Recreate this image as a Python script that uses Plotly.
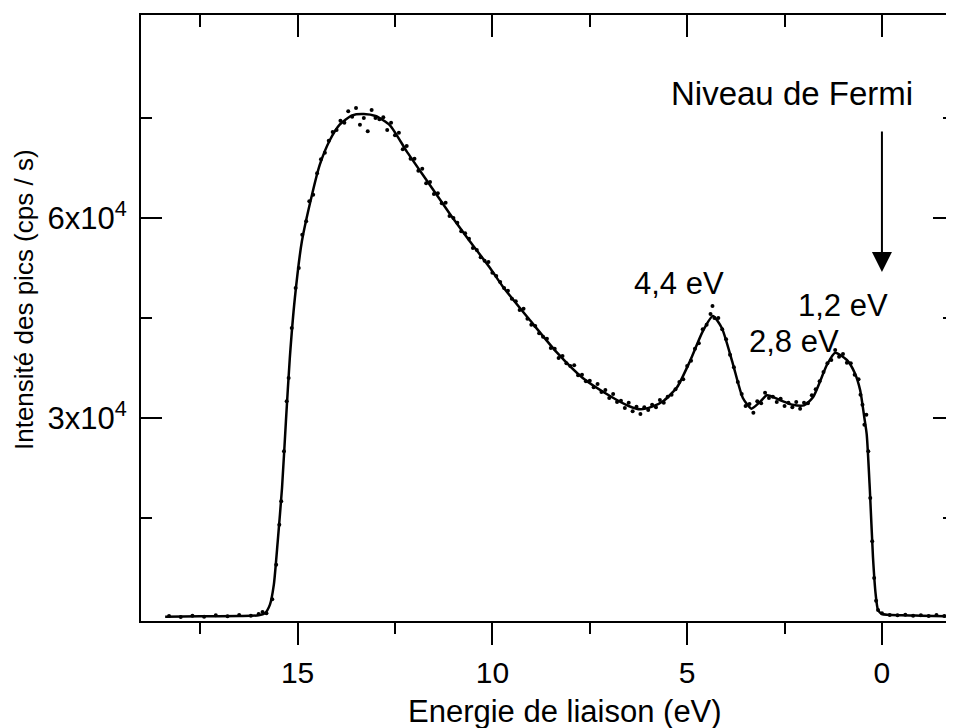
import plotly.graph_objects as go

# ── Data (binding energy in eV, intensity in counts/s) ────────────────────────

# smooth fitted curve
fit_energy = [18.4, 17.5, 16.5, 16.0, 15.84, 15.71, 15.61, 15.51, 15.40, 15.30,
              15.20, 15.07, 14.89, 14.63, 14.43, 14.17, 13.92, 13.6, 13.3, 13.0,
              12.63, 12.2, 11.68, 11.09, 10.58, 10.06, 9.73, 9.04, 8.34, 7.68,
              6.98, 6.5, 6.2, 5.9, 5.6, 5.26, 4.93, 4.60, 4.34, 4.11,
              3.83, 3.57, 3.35, 3.15, 2.95, 2.62, 2.3, 2.0, 1.77, 1.41,
              1.2, 0.9, 0.70, 0.56, 0.45, 0.39, 0.31, 0.23, 0.16, 0.10,
              0.0, -0.5, -1.0, -1.85]
fit_counts = [200, 250, 300, 400, 700, 2000, 5000, 11500, 19500, 29500,
              39000, 48000, 56500, 63500, 68000, 71700, 74000, 75400, 75600, 75300,
              73900, 70000, 65600, 60600, 56500, 52500, 49700, 44700, 39800, 36000,
              33300, 31800, 31300, 31700, 32600, 34600, 38500, 43000, 45300, 43500,
              38200, 33000, 31400, 32300, 33400, 32700, 32000, 31900, 33100, 38000,
              39800, 38700, 36800, 34200, 30000, 27500, 19200, 9150, 3500, 1200,
              600, 400, 350, 250]

# measured points
pts_energy = [18.3, 18.0, 17.7, 17.4, 17.1, 16.8, 16.5, 16.2, 16.0, 15.9, 15.8,
              15.65, 15.55, 15.47, 15.42, 15.35, 15.28, 15.23, 15.15, 15.05, 14.97,
              14.88, 14.78, 14.70, 14.6, 14.5, 14.4, 14.3, 14.2, 14.1, 14.0,
              13.9, 13.8, 13.7, 13.6, 13.5, 13.4, 13.3, 13.2, 13.1, 13.0,
              12.9, 12.8, 12.7, 12.6, 12.5, 12.4, 12.3, 12.2, 12.1, 12.0,
              11.9, 11.8, 11.7, 11.6, 11.5, 11.4, 11.3, 11.2, 11.1, 11.0,
              10.9, 10.8, 10.7, 10.6, 10.5, 10.4, 10.3, 10.2, 10.1, 10.0,
              9.9, 9.8, 9.7, 9.6, 9.5, 9.4, 9.3, 9.2, 9.1, 9.0,
              8.9, 8.8, 8.7, 8.6, 8.5, 8.4, 8.3, 8.2, 8.1, 8.0,
              7.9, 7.8, 7.7, 7.6, 7.5, 7.4, 7.3, 7.2, 7.1, 7.0,
              6.9, 6.8, 6.7, 6.6, 6.5, 6.4, 6.3, 6.2, 6.1, 6.0,
              5.9, 5.8, 5.7, 5.6, 5.5, 5.4, 5.3, 5.2, 5.1, 5.0,
              4.9, 4.8, 4.7, 4.6, 4.5, 4.4, 4.35, 4.3, 4.2, 4.1,
              4.0, 3.9, 3.8, 3.7, 3.6, 3.5, 3.4, 3.3, 3.2, 3.1,
              3.0, 2.9, 2.8, 2.7, 2.6, 2.5, 2.4, 2.3, 2.2, 2.1,
              2.0, 1.9, 1.8, 1.7, 1.6, 1.5, 1.4, 1.3, 1.2, 1.1,
              1.0, 0.9, 0.8, 0.7, 0.6, 0.55, 0.5, 0.45, 0.4, 0.35,
              0.3, 0.25, 0.2, 0.15, 0.1, 0.0, -0.2, -0.4, -0.6, -0.8,
              -1.0, -1.2, -1.4, -1.6, -1.8]
pts_counts = [300, 150, 350, 200, 400, 250, 450, 350, 600, 900, 700,
              2800, 8000, 14000, 17500, 25000, 32500, 36000, 43500, 49500, 52500,
              57500, 59500, 62500, 63500, 66700, 68800, 69800, 71600, 72900, 73200,
              74600, 74300, 76000, 75200, 76500, 74000, 75000, 73000, 76200, 75000,
              74800, 75100, 73200, 74300, 72400, 72800, 70300, 70800, 68900, 68900,
              67100, 67400, 65200, 65400, 63600, 63700, 62200, 62300, 60300, 60000,
              59300, 58000, 57700, 56900, 55500, 55200, 54100, 53600, 53400, 51800,
              51300, 50400, 49500, 49100, 47900, 47500, 46200, 46400, 44900, 44000,
              43800, 42700, 42200, 41900, 40500, 40400, 39000, 39300, 38200, 37800,
              37900, 36400, 36500, 35500, 35600, 34600, 35100, 33900, 34200, 33000,
              33600, 32400, 32600, 31500, 32300, 31000, 31700, 30600, 31600, 31200,
              32000, 31600, 32700, 32300, 33200, 33500, 34300, 35400, 35800, 37800,
              38600, 40400, 41200, 43300, 44000, 45600, 46800, 45000, 45000, 43300,
              41800, 39500, 37600, 35400, 33600, 31800, 32100, 30800, 32500, 32200,
              33800, 33000, 33200, 32400, 32900, 31800, 32300, 31600, 32400, 31400,
              32300, 32200, 33400, 34300, 35500, 36900, 38200, 38700, 40200, 39200,
              39600, 38300, 38200, 36500, 35800, 33500, 32000, 29000, 30500, 25000,
              18000, 11500, 6000, 2600, 1200, 700, 450, 400, 500, 350,
              400, 300, 450, 300, 250]

y_major = [30000, 60000]
y_major_text = ["3x10<sup>4</sup>", "6x10<sup>4</sup>"]
y_minor = [15000, 45000, 75000]

FONT = "Liberation Sans, Arial, Helvetica, sans-serif"

fig = go.Figure()

fig.add_trace(go.Scatter(
    x=fit_energy, y=fit_counts,
    mode="lines",
    line=dict(color="black", width=2.5, shape="spline", smoothing=0.6),
    hoverinfo="skip",
))

fig.add_trace(go.Scatter(
    x=pts_energy, y=pts_counts,
    mode="markers",
    marker=dict(color="black", size=4),
    xaxis="x2", yaxis="y2",
))

axis_common = dict(showgrid=False, zeroline=False, linecolor="black", linewidth=2,
                   tickcolor="black", tickwidth=2)

# the page body keeps its default 8px margin, so the figure is 8px smaller
fig.update_layout(
    width=946, height=720,
    paper_bgcolor="white", plot_bgcolor="white",
    margin=dict(l=133, r=0, t=7, b=107),
    showlegend=False,
    font=dict(family=FONT, color="black", size=30),
    xaxis=dict(
        range=[19.02, -1.85],
        tickmode="linear", tick0=0, dtick=5,
        ticks="outside", ticklen=22,
        minor=dict(tick0=0, dtick=2.5, ticks="outside", ticklen=11,
                   tickwidth=2, tickcolor="black"),
        showline=True,
        tickfont=dict(size=30),
        ticklabelstandoff=2,
        **axis_common,
    ),
    xaxis2=dict(
        matches="x", overlaying="x", side="top", anchor="y",
        tickmode="linear", tick0=0, dtick=5,
        ticks="inside", ticklen=22,
        minor=dict(tick0=0, dtick=2.5, ticks="inside", ticklen=12,
                   tickwidth=2, tickcolor="black"),
        showline=True, showticklabels=False,
        **axis_common,
    ),
    yaxis=dict(
        range=[-450, 90450],
        tickmode="array", tickvals=y_major, ticktext=y_major_text,
        ticks="inside", ticklen=21,
        minor=dict(tickmode="array", tickvals=y_minor, ticks="inside", ticklen=11,
                   tickwidth=2, tickcolor="black"),
        showline=True,
        tickfont=dict(size=31),
        ticklabelstandoff=6,
        **axis_common,
    ),
    yaxis2=dict(
        matches="y", overlaying="y", side="right", anchor="x",
        tickmode="array", tickvals=y_major,
        ticks="inside", ticklen=21,
        minor=dict(tickmode="array", tickvals=y_minor, ticks="inside", ticklen=11,
                   tickwidth=2, tickcolor="black"),
        showline=False, showticklabels=False,
        **axis_common,
    ),
)

# axis titles (placed off-centre, as in the original figure)
fig.add_annotation(xref="paper", yref="paper", x=0.5215, y=-0.1486,
                   text="Energie de liaison (eV)", showarrow=False,
                   font=dict(size=31), xanchor="center", yanchor="middle")
fig.add_annotation(xref="paper", yref="paper", x=-0.1439, y=0.5297,
                   text="Intensité des pics (cps / s)", showarrow=False,
                   textangle=-90, font=dict(size=26),
                   xanchor="center", yanchor="middle")

fig.add_annotation(x=2.31, y=78750, text="Niveau de Fermi", showarrow=False,
                   font=dict(size=33))
fig.add_annotation(x=0, y=51900, ax=0, ay=73200, axref="x", ayref="y",
                   text="", showarrow=True, arrowhead=2, arrowsize=2,
                   arrowwidth=2, arrowcolor="black")
fig.add_annotation(x=5.21, y=50250, text="4,4 eV", showarrow=False, font=dict(size=31))
fig.add_annotation(x=1.00, y=46950, text="1,2 eV", showarrow=False, font=dict(size=31))
fig.add_annotation(x=2.26, y=41550, text="2,8 eV", showarrow=False, font=dict(size=31))

fig.write_html("out.html")
